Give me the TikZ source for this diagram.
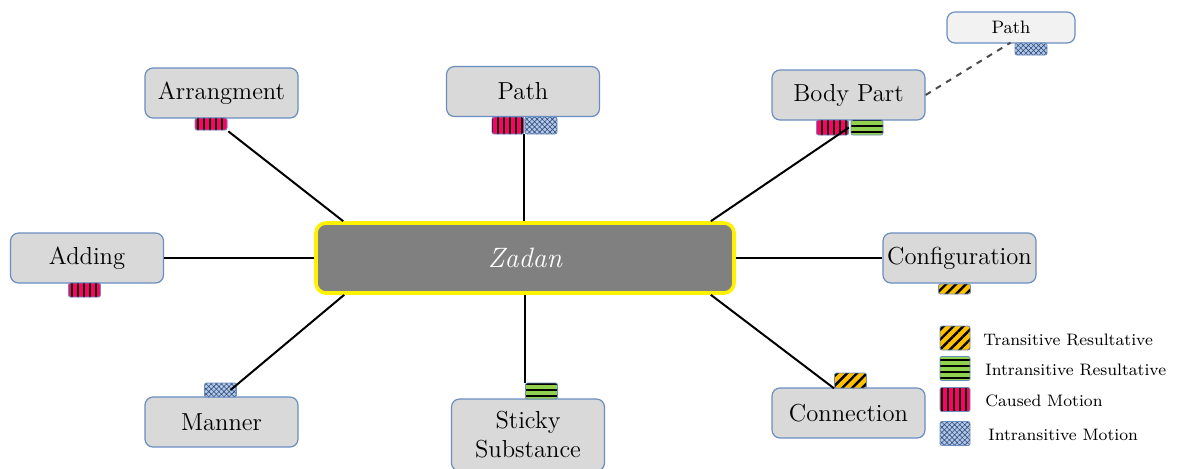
\documentclass[tikz,border=0pt]{standalone}
\usetikzlibrary{patterns.meta}
\definecolor{boxgray}{HTML}{D9D9D9}
\definecolor{boxblue}{HTML}{6A8EC0}
\definecolor{palegray}{HTML}{F2F2F2}
\definecolor{zadangray}{HTML}{808080}
\definecolor{causedred}{HTML}{FF0066}
\definecolor{transorange}{HTML}{FFC000}
\definecolor{intrgreen}{HTML}{92D050}
\definecolor{motionblue}{HTML}{B4C8E8}
\definecolor{motiondark}{HTML}{2F4C7A}
\tikzset{
  cat/.style={draw=boxblue, fill=boxgray, rounded corners=4pt, line width=0.6pt, minimum width=76.5pt, minimum height=25pt, inner sep=0pt, align=center, font=\fontsize{12.3}{14.5}\selectfont},
  tag/.style={draw=boxblue, line width=0.4pt, rounded corners=1pt, minimum width=16pt, minimum height=7pt, inner sep=0pt},
  caused/.style={tag, preaction={fill=causedred}, pattern={Lines[angle=90,distance=3pt,line width=1.3pt]}},
  transres/.style={tag, preaction={fill=transorange}, pattern={Lines[angle=45,distance=3.5pt,line width=1.2pt]}},
  intrres/.style={tag, preaction={fill=intrgreen}, pattern={Lines[angle=0,distance=3pt,line width=1pt]}},
  motion/.style={tag, preaction={fill=motionblue}, pattern={Hatch[angle=45,distance=1.8pt,line width=0.3pt]}, pattern color=motiondark},
  link/.style={line width=1pt},
  legend/.style={anchor=west, inner sep=0pt, font=\fontsize{8.3}{10}\selectfont}
}
\begin{document}
\begin{tikzpicture}[x=0.5pt, y=-0.5pt]
        \useasboundingbox (0,0) rectangle (1181,468);
        % centre
        \node [draw=yellow, line width=1.8pt, fill=zadangray, rounded corners=5pt, minimum width=209pt, minimum height=35pt, text=white, font=\fontsize{14}{16}\selectfont\itshape] (zadan) at (525,258) {Zadan};
        % categories
        \node [cat] (arr) at (221.5,93) {Arrangment};
        \node [cat] (pathT) at (523,91.5) {Path};
        \node [cat] (bp) at (848.5,95) {Body Part};
        \node [cat, fill=palegray, minimum width=64pt, minimum height=15.5pt, font=\fontsize{9}{11}\selectfont] (pathS) at (1011,27.5) {Path};
        \node [cat] (add) at (87,258) {Adding};
        \node [cat] (conf) at (959.5,258) {Configuration};
        \node [cat] (man) at (221.5,422) {Manner};
        \node [cat, minimum height=36pt] (sti) at (528,435) {Sticky\\Substance};
        \node [cat] (con) at (848.5,413) {Connection};
        % construction tags
        \node [caused, minimum height=6pt] (arrC) at (211,124) {};
        \node [caused, minimum height=8.5pt] (pathC) at (508,125.5) {};
        \node [motion, minimum height=8.5pt] (pathM) at (541,125.5) {};
        \node [caused, minimum height=7.5pt] (bpC) at (832.5,127.5) {};
        \node [intrres, minimum height=7.5pt] (bpR) at (867,127.5) {};
        \node [motion, minimum height=6pt] (pathSM) at (1031,49) {};
        \node [caused] (addC) at (84.5,290) {};
        \node [transres, minimum height=5pt] (confT) at (954.5,289) {};
        \node [motion] (manM) at (220.5,390) {};
        \node [intrres, minimum height=8pt] (stiR) at (541.5,391) {};
        \node [transres, minimum height=7.5pt] (conT) at (850.5,380.5) {};
        % links
        \draw [link] (arrC.south east) -- ([xshift=14.5pt]zadan.north west);
        \draw [link] (pathC.south east) -- (pathC.south east |- zadan.north);
        \draw [link] (bpC.east) -- ([xshift=-12.5pt]zadan.north east);
        \draw [link] (add) -- (zadan);
        \draw [link] (zadan) -- (conf);
        \draw [link] ([xshift=5pt]manM.center) -- ([xshift=15pt]zadan.south west);
        \draw [link] (stiR.north west) -- (stiR.north west |- zadan.south);
        \draw [link] (conT.south west) -- ([xshift=-12.5pt]zadan.south east);
        \draw [link, dashed, draw=black!70] (bp.east) -- ([xshift=-2pt]pathSM.north west);
        % legend
        \node [transres, minimum width=15pt, minimum height=12pt] (keyT) at (955,338) {};
        \node [intrres, minimum width=15pt, minimum height=12pt] (keyR) at (955,368.5) {};
        \node [caused, minimum width=15pt, minimum height=12pt] (keyC) at (955,399.5) {};
        \node [motion, minimum width=15pt, minimum height=12pt] (keyM) at (955,433.5) {};
        \node [legend] at (983,340) {Transitive Resultative};
        \node [legend] at (985,370) {Intransitive Resultative};
        \node [legend] at (985,401) {Caused Motion};
        \node [legend] at (988,435) {Intransitive Motion};
    \end{tikzpicture}
\end{document}
